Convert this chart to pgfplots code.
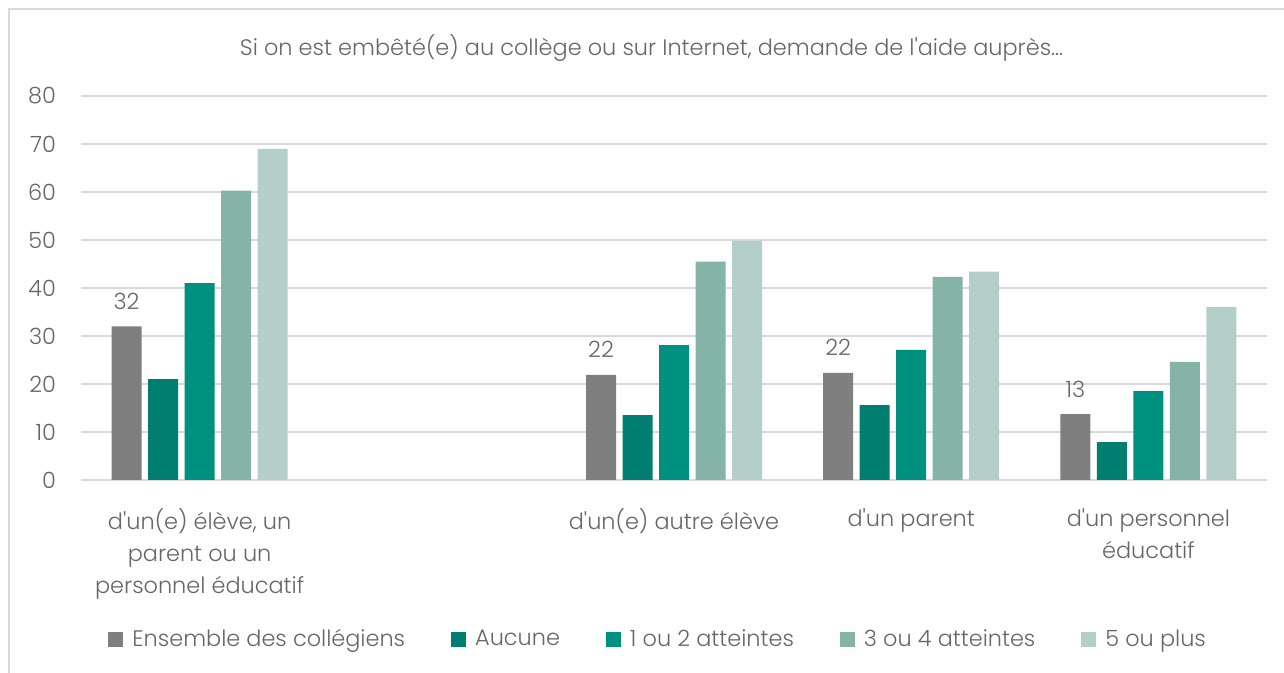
\documentclass[border=0pt]{standalone}
\usepackage{pgfplots}
\pgfplotsset{compat=1.18}
\usepackage{fontspec}
\setmainfont{Poppins}[UprightFont=* Light]
\newcommand{\q}{\textquotesingle}
\definecolor{txt}{HTML}{666666}
\definecolor{gridc}{HTML}{D9D9D9}
\definecolor{cA}{HTML}{7F7F7F}
\definecolor{cB}{HTML}{007E6F}
\definecolor{cC}{HTML}{00907F}
\definecolor{cD}{HTML}{86B3A8}
\definecolor{cE}{HTML}{B4CECA}
\newcommand{\fs}{\fontsize{11.2}{12}\selectfont}
\begin{document}
\begin{tikzpicture}[x=1pt,y=1pt]
\begin{axis}[
  at={(0,0)}, anchor=south west,
  scale only axis, width=593pt, height=192pt,
  xmin=-0.5, xmax=4.5, ymin=0, ymax=80,
  ytick={0,10,...,80},
  xtick={0,2,3,4},
  xticklabels={{d\q un(e) élève, un\\parent ou un\\personnel éducatif},{d\q un(e) autre élève},{d\q un parent},{d\q un personnel\\éducatif}},
  xticklabel style={align=center, text=txt, font=\fontsize{11.2}{16}\selectfont, yshift=-11pt},
  yticklabel style={text=txt, font=\fs, xshift=-9pt},
  /pgf/number format/assume math mode=true,
  major tick length=0pt,
  axis line style={draw=none},
  ymajorgrids, grid style={gridc, line width=0.8pt},
  ybar=3.25pt, bar width=15pt,
  legend columns=5,
  legend style={at={(0.4875,-0.415)}, anchor=center, draw=none, fill=none,
    font=\fs, text=txt,
    /tikz/every odd column/.append style={column sep=2.5pt},
    /tikz/every even column/.append style={column sep=21pt}},
  legend image code/.code={\fill[#1] (0pt,-3.75pt) rectangle (7.5pt,3.75pt);},
  legend cell align=left,
]
\addplot[fill=cA, draw=none, point meta=explicit symbolic,
  nodes near coords, nodes near coords style={text=txt, font=\fs, yshift=5pt}]
  coordinates {(0,32)[32] (2,21.9)[22] (3,22.3)[22] (4,13.7)[13]};
\addplot[fill=cB, draw=none] coordinates {(0,21) (2,13.5) (3,15.6) (4,7.9)};
\addplot[fill=cC, draw=none] coordinates {(0,41) (2,28.1) (3,27.1) (4,18.5)};
\addplot[fill=cD, draw=none] coordinates {(0,60.3) (2,45.5) (3,42.3) (4,24.6)};
\addplot[fill=cE, draw=none] coordinates {(0,69) (2,49.8) (3,43.4) (4,36)};
\legend{Ensemble des collégiens, Aucune, 1 ou 2 atteintes, 3 ou 4 atteintes, 5 ou plus}
\end{axis}
\draw[gridc,line width=0.8pt] (-36,-96.5) -- (-36,235.5) -- (601.5,235.5);
\node[text=txt,font=\fs] at (285.25,216) {Si on est embêté(e) au collège ou sur Internet, demande de l\q aide auprès…};
\pgfresetboundingbox
\useasboundingbox (-40.5,-96.5) rectangle (601.5,240);
\end{tikzpicture}
\end{document}
